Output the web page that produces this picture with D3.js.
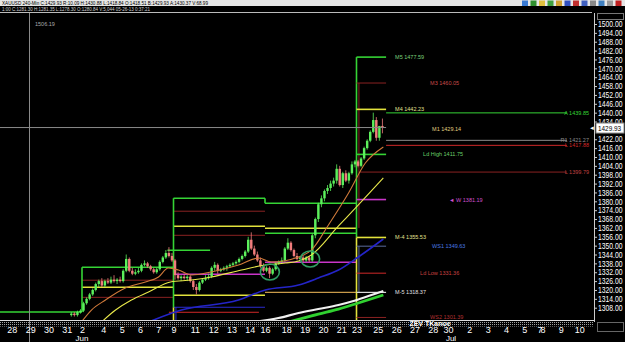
<!DOCTYPE html>
<html>
<head>
<meta charset="utf-8">
<script src="https://d3js.org/d3.v7.min.js"></script>
<style>
    body { margin: 0; background: #000; overflow: hidden; }
    text { font-family: "Liberation Sans", Arial, sans-serif; }
    .yax text { font-size: 8.5px; fill: #fff; }
    .xax text { font-size: 9px; fill: #fff; }
    .tiny { font-size: 5.5px; }
</style>
</head>
<body>
<div id="vis"></div>
<script>
// ---------- data ----------
// trading sessions (day label, bars in session: Sun=1, Fri=5, other days=6)
var sessionLabels = ["28","29","30","31","2","","4","5","6","7","9","","11","12","13","14","16","","18","19","20","21","23","","25","26","27","28","30","","2","3","4","5","7","8","9","10"];
var sessionBars   = [6,6,6,5,1,6,6,6,6,5,1,6,6,6,6,5,1,6,6,6,6,5,1,6,6,6,6,5,1,6,6,6,6,5,1,6,6,6];
var monthLabels   = ["Jun","Jul"];
var monthSession  = [4, 29];

// 240-min candles, first one at bar 19
var firstBar = 19;
var opens  = [1303,1304,1303,1305,1306,1311,1314,1317,1320,1324,1326,1323,1326,1325,1327,1326,1327,1326,1333,1341,1333,1331,1332,1333,1337,1338,1336,1334,1332,1334,1339,1342,1345,1343,
              1340,1330,1328,1329,1328,1329,1326,1322,1320,1325,1327,1328,1329,1335,1337,1333,1334,1335,1336,1337,1338,1339,1341,1343,1346,1354,1348,1344,1340,1336,
              1333,1335,1331,1334,1338,1339,1340,1348,1352,1347,1343,1341,1342,1340,1342,1340,1357,1368,1378,1382,1387,1389,1392,1394,1402,1391,1399,1394,1399,1405,
              1407,1404,1409,1416,1421,1427,1435,1423,1431];
var highs  = [1305,1305,1306,1307,1312,1315,1318,1321,1325,1327,1328,1327,1328,1329,1330,1328,1329,1334,1344,1342,1335,1334,1335,1338,1340,1339,1337,1335,1335,1340,1343,1347,1349,1345,
              1341,1332,1330,1331,1330,1330,1327,1324,1326,1328,1330,1331,1336,1339,1338,1335,1336,1337,1338,1339,1340,1342,1344,1347,1356,1359,1350,1346,1342,1338,
              1336,1336,1335,1339,1340,1342,1349,1355,1353,1348,1345,1343,1343,1343,1343,1358,1369,1379,1384,1388,1391,1394,1396,1405,1404,1400,1401,1400,1407,1408,
              1408,1410,1417,1422,1428,1440,1437,1431,1436];
var lows   = [1302,1302,1302,1304,1305,1310,1313,1316,1319,1322,1322,1322,1324,1324,1325,1324,1325,1325,1332,1332,1330,1330,1331,1332,1336,1335,1333,1331,1331,1333,1338,1341,1342,1339,
              1327,1327,1326,1327,1326,1325,1320,1317,1319,1324,1326,1327,1328,1333,1331,1332,1333,1333,1335,1336,1337,1338,1340,1342,1345,1347,1343,1339,1335,1332,
              1332,1328,1330,1333,1337,1338,1339,1347,1346,1342,1340,1339,1339,1339,1339,1339,1355,1366,1376,1380,1385,1387,1390,1392,1390,1389,1393,1392,1398,1403,
              1403,1403,1408,1415,1420,1426,1421,1421,1426];
var closes = [1304,1303,1305,1306,1311,1314,1317,1320,1324,1326,1323,1326,1325,1327,1326,1327,1326,1333,1341,1333,1331,1332,1333,1337,1338,1336,1334,1332,1334,1339,1342,1345,1343,1340,
              1330,1328,1329,1328,1329,1326,1322,1320,1325,1327,1328,1329,1335,1337,1333,1334,1335,1336,1337,1338,1339,1341,1343,1346,1354,1348,1344,1340,1336,1333,
              1335,1331,1334,1338,1339,1340,1348,1352,1347,1343,1341,1342,1340,1342,1340,1357,1368,1378,1382,1387,1389,1392,1394,1402,1391,1399,1394,1399,1405,1407,
              1404,1409,1416,1421,1427,1435,1423,1431,1429.93];

// moving averages: [bar, price]
var maFast  = [[22.8,1298.3],[26.1,1306.4],[30.7,1313.2],[37.2,1321.3],[43.8,1325.4],[48.1,1328.8],[51.3,1334.9],[54.6,1333.5],[58.9,1330.1],[65.4,1332.2],[74.3,1336.9],[80.9,1341.6],[85.1,1338.9],[94.0,1342.3],[98.2,1347.0],[103.8,1364.0],[110.4,1385.6],[115.9,1405.9],[121.8,1416.8]];
var maMid   = [[29.4,1298.3],[34.0,1306.4],[39.2,1313.2],[44.8,1318.6],[52.0,1325.4],[58.9,1326.7],[65.4,1328.8],[75.3,1333.5],[83.1,1336.9],[89.7,1338.2],[94.0,1339.6],[98.2,1343.7],[107.1,1363.3],[112.7,1375.5],[121.8,1395.8]];
var maSlow  = [[44.8,1298.3],[55.6,1306.4],[74.3,1313.2],[83.1,1320.0],[94.0,1323.4],[100.5,1328.1],[107.1,1333.5],[113.6,1342.3],[121.8,1354.5]];
var maLong  = [[79.2,1298.3],[87.4,1301.0],[94.0,1304.4],[100.5,1307.1],[107.1,1309.8],[112.0,1312.5],[116.9,1315.9],[121.8,1319.3]];
var maTrend = [[90.7,1298.3],[100.5,1303.7],[107.1,1307.1],[113.6,1311.2],[121.8,1316.6]];

// weekly pivot levels: [family, fromBar, toBar, price]
var levels = [
    ["g",-4,23,1305.1],
    ["g",23,53,1335.4],["r",23,53,1326.6],["y",23,53,1321.8],["r",23,53,1315.0],
    ["g",53,83,1382.1],["r",53,83,1373.3],["y",53,83,1363.1],["r",53,83,1357.0],["m",53,83,1330.6],["y",53,83,1316.4],["b",53,83,1308.3],["rd",51.5,81,1304.9],["g",51,65,1346.9],
    ["g",83,113,1378.7],["y",83,113,1361.8],["g",83,113,1358.4],["m",83,113,1338.8],["o",83,113,1318.4]
];
// vertical connectors: [family, bar, fromPrice, toPrice]
var connectors = [
    ["g",23,1305.1,1335.4],["y",53,1296,1308.3],["g",53,1308.3,1382.1],["g",83,1378.7,1382.1],["b",53.8,1296,1308.3],
    ["y",113,1296,1355.53],["g",113,1355.53,1477.59],["r",113.8,1362,1460.05],["s",113.8,1318.37,1349.63]
];
// current week levels
var curNames   = ["M5","M3","M4","M1","Ld High","W","M-4","WS1","Ld Low","M-5","WS2"];
var curValues  = [1477.59,1460.05,1442.23,1429.14,1411.75,1381.19,1355.53,1349.63,1331.36,1318.37,1301.39];
var curFamily  = ["g","r","y","","g","m","y","s","rd","w","r"];
var longNames  = ["A","R1","L","L"];
var longValues = [1439.85,1421.27,1417.88,1399.79];
var longFamily = ["g","gr","rd","r"];
var longFrom   = [122.7,122.7,122.7,113.8];

var lastPrice = 1429.93, crossPrice = 1506.19;
var yTicks = d3.range(1308, 1501, 6);
var circles = [[84.6,1332.2],[97.8,1341.0]];

var headerText = "XAUUSD 240-Min C:1429.93 R:10.09 H:1430.88 L:1418.84 O:1418.51 B:1429.93 A:1430.37 V:68.99";
var subText = "1:00 C:1281.30 H:1281.35 L:1278.30 O:1280.84 V:5,044 05-26-13 0:37:21";

// ---------- styles ----------
var famColor = { g:"#35d435", r:"#8a2222", y:"#e2e23c", m:"#c935c9", b:"#2b2bd0", o:"#c89a4a",
                 w:"#d8d8d8", s:"#5b6c9c", gr:"#8c8c8c", rd:"#d02828" };
var famWidth = { g:1.6, y:1.6, m:1.6, b:1, r:1, o:1.2, w:1.2, s:1, gr:1, rd:1 };
var labelColor = { "M5":"#7ad07a","M3":"#c84a4a","M4":"#e0e090","M1":"#e0d080","Ld High":"#6ad06a","W":"#d050d0",
                   "M-4":"#e0e090","WS1":"#4a7ae0","Ld Low":"#c84040","M-5":"#e0e0e0","WS2":"#b03030" };
var labelDx = { "M5":9,"M3":44,"M4":9,"M1":46,"Ld High":37,"W":63,"M-4":9,"WS1":46,"Ld Low":34,"M-5":9,"WS2":44 };
var squeeze = 0.8;   // horizontal squeeze for the narrow price-axis font

// ---------- chart ----------
var width = 625, height = 342, plotRight = 594, plotTop = 13, plotBottom = 320;

var x = d3.scaleLinear().domain([-3.885, 190.87]).range([0, plotRight]);
var y = d3.scaleLinear().domain([1308, 1500]).range([307.7, 24]);

var svg = d3.select("#vis").append("svg")
    .attr("width", width).attr("height", height)
    .style("background", "#000");

var defs = svg.append("defs");
defs.append("clipPath").attr("id", "plotclip").append("rect")
    .attr("x", 0).attr("y", plotTop).attr("width", plotRight).attr("height", plotBottom - plotTop);
var pat = defs.append("pattern").attr("id", "dots")
    .attr("width", 2).attr("height", 2).attr("patternUnits", "userSpaceOnUse");
pat.append("rect").attr("width", 1).attr("height", 1).attr("fill", "#a0a0a0");

// header rows
svg.append("rect").attr("x", 0).attr("y", 0).attr("width", width).attr("height", 6).attr("fill", "#e6e6e6");
svg.append("text").attr("class", "tiny").attr("x", 2).attr("y", 5).attr("fill", "#000")
    .attr("textLength", 206).attr("lengthAdjust", "spacingAndGlyphs").text(headerText);
svg.append("text").attr("class", "tiny").attr("x", 2).attr("y", 11).attr("fill", "#d0d0d0")
    .attr("textLength", 148).attr("lengthAdjust", "spacingAndGlyphs").text(subText);
svg.append("line").attr("x1", 0).attr("x2", plotRight - 2).attr("y1", 12.5).attr("y2", 12.5).attr("stroke", "#bbb");
svg.append("rect").attr("x", 597.5).attr("y", 13.5).attr("width", 26).attr("height", 6).attr("fill", "none").attr("stroke", "#777");

// toolbar icons
var iconCols = ["#3a7bd5","#2f8f2f","#e0c040","#40a040","#d0a030","#3050c0","#c03030","#4060c0","#888","#4080c0","#999","#c02020"];
svg.selectAll(".icon").data(iconCols).join("rect")
    .attr("x", function(d, i) { return 522 + i * 8.5; }).attr("y", 0.5)
    .attr("width", 6).attr("height", 5.5).attr("fill", function(d) { return d; });

var plot = svg.append("g").attr("clip-path", "url(#plotclip)");

// weekly levels
plot.selectAll(".lvl").data(levels).join("line")
    .attr("x1", function(d) { return x(d[1]); }).attr("x2", function(d) { return x(d[2]); })
    .attr("y1", function(d) { return y(d[3]); }).attr("y2", function(d) { return y(d[3]); })
    .attr("stroke", function(d) { return famColor[d[0]]; })
    .attr("stroke-width", function(d) { return famWidth[d[0]]; });

plot.selectAll(".con").data(connectors).join("line")
    .attr("x1", function(d) { return x(d[1]); }).attr("x2", function(d) { return x(d[1]); })
    .attr("y1", function(d) { return y(d[2]); }).attr("y2", function(d) { return y(d[3]); })
    .attr("stroke", function(d) { return famColor[d[0]]; })
    .attr("stroke-width", function(d) { return famWidth[d[0]]; });

// current week stubs
var cur = curNames.map(function(n, i) { return { name: n, v: curValues[i], f: curFamily[i] }; });
plot.selectAll(".cur").data(cur.filter(function(d) { return d.f; })).join("line")
    .attr("x1", x(113)).attr("x2", x(122.7))
    .attr("y1", function(d) { return y(d.v); }).attr("y2", function(d) { return y(d.v); })
    .attr("stroke", function(d) { return famColor[d.f]; })
    .attr("stroke-width", function(d) { return famWidth[d.f]; });

var longs = longNames.map(function(n, i) { return { name: n, v: longValues[i], f: longFamily[i], from: longFrom[i] }; });
plot.selectAll(".long").data(longs).join("line")
    .attr("x1", function(d) { return x(d.from); }).attr("x2", x(182))
    .attr("y1", function(d) { return y(d.v); }).attr("y2", function(d) { return y(d.v); })
    .attr("stroke", function(d) { return famColor[d.f]; }).attr("stroke-width", 1);

// candles
var bars = opens.map(function(o, i) {
    return { b: firstBar + i, o: o, h: highs[i], l: lows[i], c: closes[i] };
});
var bw = (x(1) - x(0)) * 0.8;
var candleColor = function(d) { return d.c >= d.o ? "#5cf05c" : "#f07c7c"; };
plot.selectAll(".wick").data(bars).join("line")
    .attr("x1", function(d) { return x(d.b + 0.5); }).attr("x2", function(d) { return x(d.b + 0.5); })
    .attr("y1", function(d) { return y(d.h); }).attr("y2", function(d) { return y(d.l); })
    .attr("stroke", candleColor).attr("stroke-width", 0.8);
plot.selectAll(".body").data(bars).join("rect")
    .attr("x", function(d) { return x(d.b + 0.5) - bw / 2; })
    .attr("y", function(d) { return y(Math.max(d.o, d.c)); })
    .attr("width", bw)
    .attr("height", function(d) { return Math.max(1, Math.abs(y(d.o) - y(d.c))); })
    .attr("fill", candleColor);

// moving averages
var line = d3.line().x(function(d) { return x(d[0]); }).y(function(d) { return y(d[1]); }).curve(d3.curveMonotoneX);
var mas = [[maSlow, "#2424c8", 1.6], [maLong, "#f0f0f0", 2.2], [maTrend, "#30d030", 2.8], [maMid, "#e8e84a", 1.1], [maFast, "#d07a3a", 1.1]];
mas.forEach(function(m) {
    plot.append("path").datum(m[0]).attr("d", line)
        .attr("fill", "none").attr("stroke", m[1]).attr("stroke-width", m[2]);
});

// circled spots
plot.selectAll(".ring").data(circles).join("ellipse")
    .attr("cx", function(d) { return x(d[0]); }).attr("cy", function(d) { return y(d[1]); })
    .attr("rx", 9.5).attr("ry", 8)
    .attr("fill", "none").attr("stroke", "#2f9e62").attr("stroke-width", 1.6);

// level labels
svg.selectAll(".curlab").data(cur).join("text")
    .attr("class", "tiny")
    .attr("x", function(d) { return x(122.7) + labelDx[d.name]; })
    .attr("y", function(d) { return y(d.v) + 2; })
    .attr("fill", function(d) { return labelColor[d.name]; })
    .text(function(d) { return (d.name === "W" ? "\u25c4 " : "") + d.name + " " + d.v.toFixed(2); });
svg.selectAll(".longlab").data(longs).join("text")
    .attr("class", "tiny").attr("text-anchor", "end")
    .attr("x", 589).attr("y", function(d) { return y(d.v) + 2; })
    .attr("fill", function(d) { return famColor[d.f] === "#8a2222" ? "#c04040" : famColor[d.f]; })
    .text(function(d) { return d.name + " " + d.v.toFixed(2); });

// crosshair
svg.append("line").attr("x1", 0).attr("x2", x(122.7)).attr("y1", y(lastPrice)).attr("y2", y(lastPrice))
    .attr("stroke", "#8a8a8a").attr("stroke-width", 1);
svg.append("line").attr("x1", 29.5).attr("x2", 29.5).attr("y1", 13).attr("y2", height)
    .attr("stroke", "#8a8a8a").attr("stroke-width", 1);
svg.append("text").attr("class", "tiny").attr("x", 35).attr("y", 26).attr("fill", "#aaa").text(crossPrice.toFixed(2));

// bottom band
svg.append("rect").attr("x", 0).attr("y", 321).attr("width", plotRight).attr("height", 5.5).attr("fill", "url(#dots)");
svg.append("line").attr("x1", 0).attr("x2", plotRight).attr("y1", 320.5).attr("y2", 320.5).attr("stroke", "#ddd");
svg.append("text").attr("x", 430).attr("y", 325.8).attr("text-anchor", "middle")
    .attr("font-size", 7).attr("font-weight", "bold").attr("fill", "#fff").text("ZEV TKanoe");

// right axis (labels hidden under the last-price box are skipped)
var yAxis = d3.axisRight(y)
    .tickValues(yTicks.filter(function(v) { return Math.abs(y(v) - y(lastPrice)) > 6; }))
    .tickSize(3).tickPadding(1)
    .tickFormat(function(d) { return d.toFixed(2); });
var gy = svg.append("g").attr("class", "yax").attr("transform", "translate(" + plotRight + ",0)").call(yAxis);
gy.select(".domain").remove();
gy.selectAll("line").attr("stroke", "#ccc");
gy.selectAll("text").attr("x", 4 / squeeze).attr("transform", "scale(" + squeeze + ",1)");
svg.append("line").attr("x1", plotRight + 0.5).attr("x2", plotRight + 0.5).attr("y1", plotTop).attr("y2", plotBottom + 2)
    .attr("stroke", "#ccc");

// last price box
svg.append("rect").attr("x", 596).attr("y", y(lastPrice) - 4.5).attr("width", 28).attr("height", 10)
    .attr("fill", "#fff").attr("stroke", "#888");
svg.append("text").attr("x", 598 / squeeze).attr("y", y(lastPrice) + 3.3)
    .attr("transform", "scale(" + squeeze + ",1)")
    .attr("font-size", 8).attr("fill", "#000")
    .text(lastPrice.toFixed(2));
svg.append("text").attr("x", 589).attr("y", y(lastPrice) + 2.5).attr("font-size", 6).attr("fill", "#fff").text("\u25c4");
svg.append("rect").attr("x", 597.5).attr("y", 322.5).attr("width", 26).attr("height", 9).attr("fill", "none").attr("stroke", "#666");

// date axis
var starts = [];
sessionBars.reduce(function(acc, n) { starts.push(acc); return acc + n; }, 0);
var tickIdx = sessionLabels.map(function(l, i) { return i; }).filter(function(i) { return sessionLabels[i] !== ""; });
var xAxis = d3.axisBottom(x).tickValues(tickIdx.map(function(i) { return starts[i]; })).tickSize(0).tickPadding(0)
    .tickFormat(function(d, i) { return sessionLabels[tickIdx[i]]; });
var gx = svg.append("g").attr("class", "xax").attr("transform", "translate(0,326.6)").call(xAxis);
gx.select(".domain").remove();
svg.selectAll(".mon").data(monthLabels).join("text")
    .attr("x", function(d, i) { return x(starts[monthSession[i]]); }).attr("y", 340.6)
    .attr("text-anchor", "middle").attr("font-size", 8).attr("fill", "#fff")
    .text(function(d) { return d; });
</script>
</body>
</html>
